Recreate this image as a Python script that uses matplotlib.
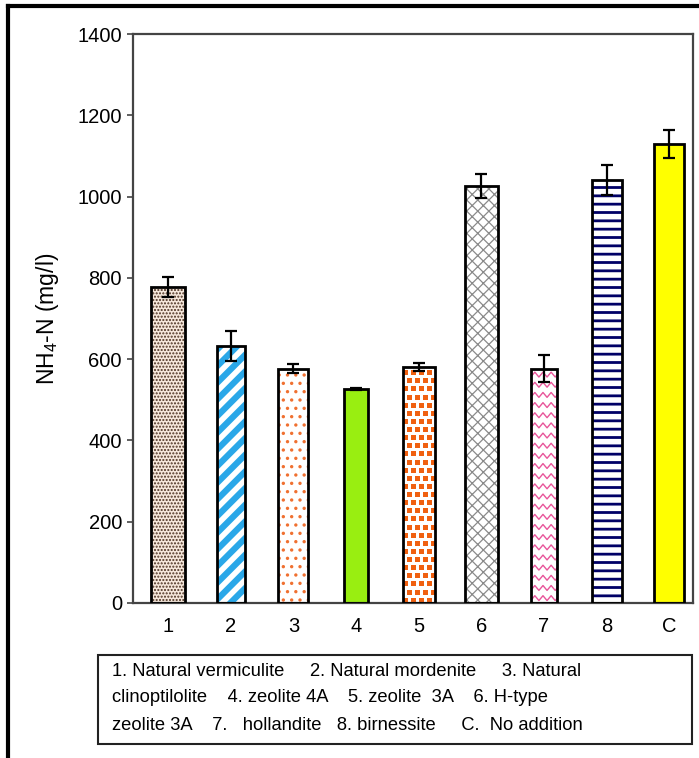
import matplotlib
matplotlib.use('Agg')
import matplotlib.pyplot as plt
import numpy as np
from matplotlib.lines import Line2D
from matplotlib.patches import Rectangle

plt.rcParams['font.family'] = ['Liberation Sans', 'DejaVu Sans']
plt.rcParams['mathtext.default'] = 'regular'

# data
labels = ['1', '2', '3', '4', '5', '6', '7', '8', 'C']
values = [777, 632, 576, 527, 581, 1026, 576, 1041, 1129]
errors = [25, 37, 11, 3, 10, 30, 33, 37, 34]
legend_lines = [
    '1. Natural vermiculite     2. Natural mordenite     3. Natural',
    'clinoptilolite    4. zeolite 4A    5. zeolite  3A    6. H-type',
    'zeolite 3A    7.   hollandite   8. birnessite     C.  No addition',
]

# styles per bar: width, face, hatch colour, hatch, hatch linewidth
widths = [0.53, 0.45, 0.48, 0.38, 0.51, 0.53, 0.42, 0.48, 0.48]
faces = ['#f6e8dc', 'white', 'white', '#99ee11', 'white', 'white', 'white', 'white', '#ffff00']
hcols = ['#4a3020', '#2aa7e8', '#f07030', None, '#f06010', '#8a8a8a', '#e8559a', '#000066', None]
hatches = ['.....', '//', '..', None, None, 'xxx', None, '--', None]
hlws = [1.0, 4.5, 1.2, 1.0, 1.0, 0.9, 1.0, 2.0, 1.0]

fig = plt.figure(figsize=(6.99, 7.58), dpi=100)
ax = fig.add_axes([133/699, 1-603/758, (693-133)/699, (603-34)/758])

x = np.arange(len(labels))
for i in range(len(labels)):
    if hatches[i] is not None:
        plt.rcParams['hatch.linewidth'] = hlws[i]
        b = ax.bar(x[i], values[i], widths[i], color=faces[i], edgecolor=hcols[i],
                   hatch=hatches[i], linewidth=0, zorder=2)
        for p in b:
            if hasattr(p, 'set_hatch_linewidth'):
                p.set_hatch_linewidth(hlws[i])
    else:
        b = ax.bar(x[i], values[i], widths[i], color=faces[i], linewidth=0, zorder=2)
    rect = b[0]
    x0, w = rect.get_x(), rect.get_width()
    # zigzag texture for hollandite
    if labels[i] == '7':
        xs = np.arange(x0, x0 + w + 0.07, 0.065)
        for y0 in np.arange(12, values[i], 25):
            ys = y0 + np.where(np.arange(len(xs)) % 2 == 0, -6, 6)
            ln, = ax.plot(xs, ys, color=hcols[i], lw=1.0, zorder=2.5)
            ln.set_clip_path(rect)
    # square-dot texture for zeolite 3A
    if labels[i] == '5':
        for r, y0 in enumerate(np.arange(8, values[i], 20)):
            xs = np.arange(x0 + 0.03 + (r % 2) * 0.065, x0 + w, 0.13)
            ln, = ax.plot(xs, np.full(len(xs), y0), 's', color=hcols[i], ms=3.6,
                          mew=0, zorder=2.5)
            ln.set_clip_path(rect)
    ax.bar(x[i], values[i], widths[i], fill=False, edgecolor='black', linewidth=2, zorder=3)

ax.errorbar(x, values, yerr=errors, fmt='none', ecolor='black', elinewidth=1.6,
            capsize=4.5, capthick=1.6, zorder=4)

ax.set_xlim(-0.56, 8.38)
ax.set_ylim(0, 1400)
ax.set_yticks(range(0, 1401, 200))
ax.set_xticks(x)
ax.set_xticklabels(labels)
ax.tick_params(axis='x', length=0, labelsize=14.5, pad=10)
ax.tick_params(axis='y', direction='out', length=4, width=1.2, labelsize=14.5, pad=4, color='#444444')
for s in ax.spines.values():
    s.set_linewidth(1.6)
    s.set_color('#444444')
ax.set_ylabel('NH$_4$-N (mg/l)', fontsize=16.5, labelpad=12)

# legend box with text
fig.add_artist(Rectangle((98/699, 1-744/758), (692-98)/699, (744-655)/758,
                         transform=fig.transFigure, fill=False, edgecolor='#222222', lw=1.5))
for k, line in enumerate(legend_lines):
    fig.text(112/699, 1-(671+27*k)/758, line, fontsize=13.2, va='center', ha='left')

# outer frame (top and left)
fig.add_artist(Line2D([8/699, 1], [1-6/758, 1-6/758], transform=fig.transFigure, color='black', lw=3))
fig.add_artist(Line2D([8/699, 8/699], [0, 1-6/758], transform=fig.transFigure, color='black', lw=3))

fig.savefig('out.png', dpi=100)
